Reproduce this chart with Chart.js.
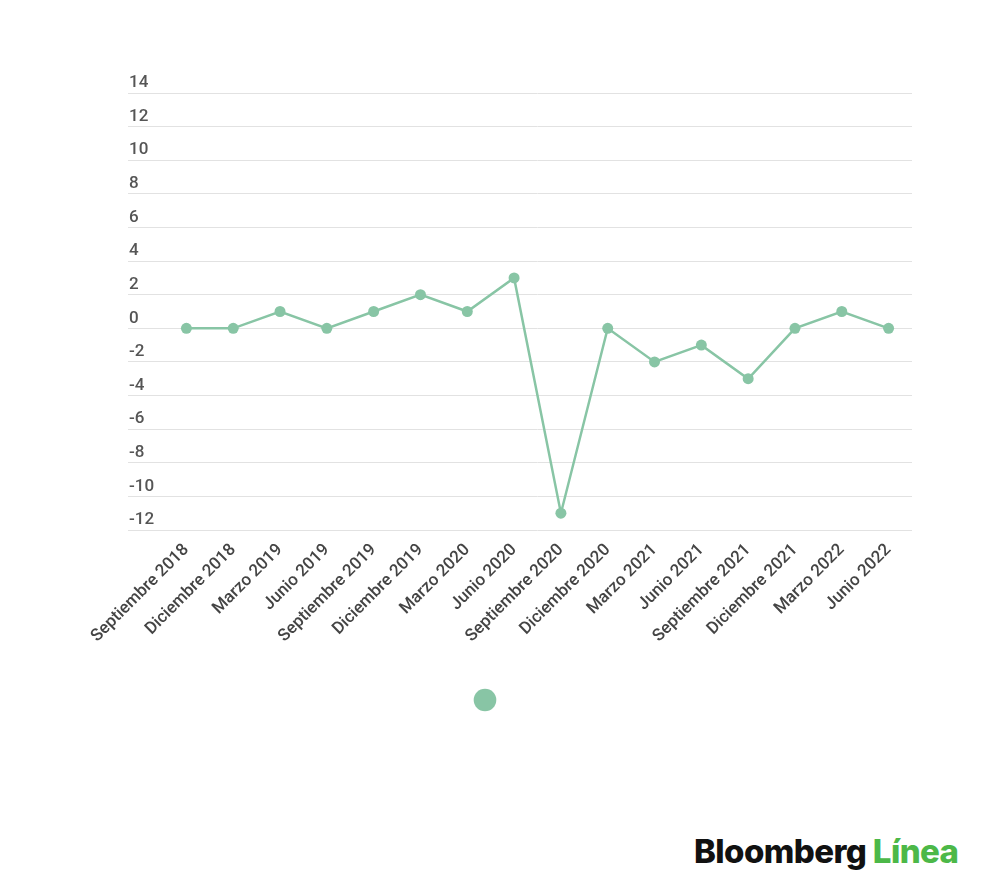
<!DOCTYPE html>
<html>
<head>
<meta charset="utf-8">
<script src="https://cdn.jsdelivr.net/npm/chart.js@4"></script>
<style>
  html, body { margin: 0; padding: 0; background: #fff; }
  #wrap { position: relative; width: 1000px; height: 895px; }
  #chartBox { position: absolute; left: 0; top: 0; width: 1000px; height: 718px; }
  #logo {
    position: absolute; left: 694px; top: 831px;
    font-family: "Inter", "Liberation Sans", sans-serif;
    font-weight: 800; font-size: 33px; letter-spacing: -0.6px;
    color: #111; white-space: nowrap;
  }
  #logo span { color: #4cb848; }
</style>
</head>
<body>
<div id="wrap">
  <div id="chartBox"><canvas id="lineChart"></canvas></div>
  <div id="logo">Bloomberg <span>Línea</span></div>
</div>
<script>
// Quarter labels and values
const quarters = [
  'Septiembre 2018', 'Diciembre 2018', 'Marzo 2019', 'Junio 2019',
  'Septiembre 2019', 'Diciembre 2019', 'Marzo 2020', 'Junio 2020',
  'Septiembre 2020', 'Diciembre 2020', 'Marzo 2021', 'Junio 2021',
  'Septiembre 2021', 'Diciembre 2021', 'Marzo 2022', 'Junio 2022'
];
const values = [0, 0, 1, 0, 1, 2, 1, 3, -11, 0, -2, -1, -3, 0, 1, 0];
const yTicks = [14, 12, 10, 8, 6, 4, 2, 0, -2, -4, -6, -8, -10, -12];

const green = '#88c5a5';

function initializeChart() {
    const canvas = document.getElementById('lineChart');
    if (!canvas) {
        console.error('lineChart canvas not found');
        return;
    }
    const ctx = canvas.getContext('2d');

    new Chart(ctx, {
        type: 'line',
        data: {
            labels: quarters,
            datasets: [{
                label: '',
                data: values,
                borderColor: green,
                backgroundColor: green,
                borderWidth: 2.5,
                pointRadius: 5.5,
                pointHoverRadius: 5.5,
                pointBackgroundColor: green,
                pointBorderWidth: 0,
                tension: 0
            }]
        },
        options: {
            responsive: true,
            maintainAspectRatio: false,
            animation: false,
            layout: {
                padding: { left: 66, right: 88, top: 93, bottom: 0 }
            },
            scales: {
                x: {
                    type: 'category',
                    offset: true,
                    grid: { display: false },
                    border: { display: false },
                    ticks: {
                        autoSkip: false,
                        maxRotation: 45,
                        minRotation: 45,
                        padding: 2,
                        color: '#444',
                        font: { family: 'Roboto', size: 17, weight: '500' }
                    },
                    afterFit: (scale) => { scale.height = 152; }
                },
                y: {
                    min: -12,
                    max: 14,
                    border: { display: false },
                    grid: {
                        color: '#e2e2e2',
                        lineWidth: 1,
                        drawTicks: true,
                        tickLength: 35
                    },
                    afterBuildTicks: (scale) => {
                        scale.ticks = yTicks.map(v => ({ value: v }));
                    },
                    ticks: {
                        mirror: true,
                        crossAlign: 'near',
                        padding: -34,
                        labelOffset: -10,
                        color: '#555',
                        font: { family: 'Roboto', size: 17, weight: '500' }
                    },
                    afterFit: (scale) => { scale.width = 97; }
                }
            },
            plugins: {
                legend: {
                    display: true,
                    position: 'bottom',
                    labels: {
                        usePointStyle: true,
                        pointStyle: 'circle',
                        boxWidth: 16,
                        boxHeight: 16,
                        padding: 10,
                        color: '#444',
                        font: { family: 'Roboto', size: 16 }
                    }
                },
                tooltip: { enabled: false }
            }
        }
    });
}

initializeChart();
</script>
</body>
</html>
